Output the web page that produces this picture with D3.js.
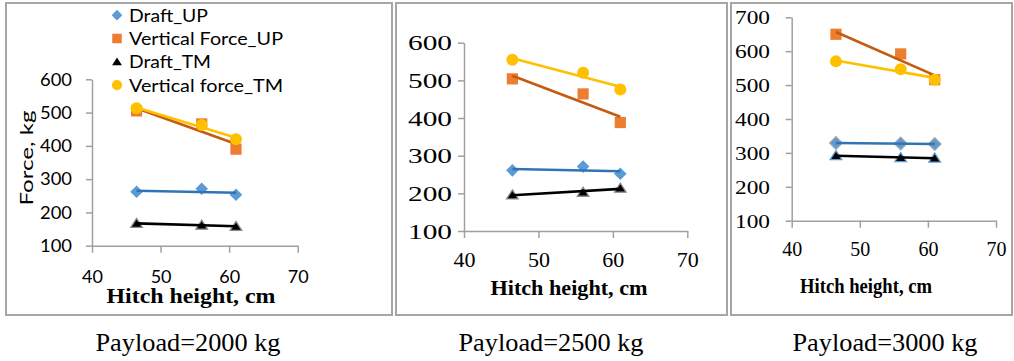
<!DOCTYPE html>
<html>
<head>
<meta charset="utf-8">
<script src="https://cdn.jsdelivr.net/npm/d3@7"></script>
<style>
  body { margin: 0; background: #fff; }
  svg { display: block; }
</style>
</head>
<body>
<svg id="chart" width="1014" height="361"></svg>
<script>
// Hitch height (cm) at which each force was measured
const hitchHeight = [46.5, 56, 61];

// One entry per payload panel: values at the three hitch heights (kg)
const payloadLabels = ["Payload=2000 kg", "Payload=2500 kg", "Payload=3000 kg"];
const draftUP         = [[262, 271, 253], [261, 271, 252], [329, 328, 326]];
const verticalForceUP = [[505, 466, 390], [504, 464, 388], [650, 592, 516]];
const draftTM         = [[167, 162, 158], [196, 203, 214], [292, 286, 285]];
const verticalForceTM = [[513, 463, 420], [555, 520, 476], [570, 547, 516]];

const seriesNames = ["Draft_UP", "Vertical Force_UP", "Draft_TM", "Vertical force_TM"];

// Axis ticks
const xTicks = [40, 50, 60, 70];
const yTicks = [
  [100, 200, 300, 400, 500, 600],
  [100, 200, 300, 400, 500, 600],
  [100, 200, 300, 400, 500, 600, 700]
];

const xTitle = "Hitch height, cm";
const yTitle = "Force, kg";

// ---------------------------------------------------------------------------
const SANS = "Lato, 'Open Sans', sans-serif";
const SERIF = "'Liberation Serif', 'Times New Roman', serif";

// marker shapes, r = half width in px
const shapes = {
  diamond: r => `M0,${-r}L${r},0L0,${r}L${-r},0Z`,
  square: r => `M${-r},${-r}H${r}V${r}H${-r}Z`,
  triangle: r => `M0,${-r * 0.85}L${r},${r * 0.7}L${-r},${r * 0.7}Z`,
  circle: r => `M${r},0A${r},${r} 0 1,1 ${-r},0A${r},${r} 0 1,1 ${r},0Z`
};

const seriesStyle = [
  { shape: "diamond",  r: 6.3, fill: "#5B9BD5", line: "#2E75B6" },
  { shape: "square",   r: 5.6, fill: "#ED7D31", line: "#C55A11" },
  { shape: "triangle", r: 5.8, fill: "#000000", line: "#000000" },
  { shape: "circle",   r: 6.0, fill: "#FFC000", line: "#FFC000" }
];
const seriesData = [draftUP, verticalForceUP, draftTM, verticalForceTM];

const panels = [
  { frame: [6, 3, 386, 312], xr: [92, 297.7], yr: [245.7, 79.3], ydom: [100, 600],
    tickFont: SANS, yTickSize: 17, yTickW: 32, yTickEnd: 72,
    xTickSize: 18, xTickBase: 283,
    titleSize: 20, titleW: 169, titleX: 191, titleBase: 303,
    markerStroke: [null, null, "#8c8c8c", null],
    caption: { x: 188 } },
  { frame: [396, 3, 331, 312], xr: [464, 687.3], yr: [231, 42.7], ydom: [100, 600],
    tickFont: SERIF, yTickSize: 21, yTickW: 44, yTickEnd: 452,
    xTickSize: 22, xTickBase: 266.5,
    titleSize: 22, titleW: 157, titleX: 569, titleBase: 295,
    markerStroke: [null, null, "#8c8c8c", null],
    caption: { x: 551 } },
  { frame: [731, 3, 281, 312], xr: [791.7, 996], yr: [220.7, 17.3], ydom: [100, 700],
    tickFont: SERIF, yTickSize: 19, yTickW: 35, yTickEnd: 770,
    xTickSize: 20, xTickBase: 256.5,
    titleSize: 21, titleW: 132, titleX: 866, titleBase: 293,
    markerStroke: ["#A5A5A5", null, "#5B9BD5", null],
    caption: { x: 885 } }
];

const svg = d3.select("#chart");
const AXIS = "#a0a0a0";

// least-squares line through the measured points
function fit(xs, ys) {
  const mx = d3.mean(xs), my = d3.mean(ys);
  let sxy = 0, sxx = 0;
  xs.forEach((x, i) => { sxy += (x - mx) * (ys[i] - my); sxx += (x - mx) * (x - mx); });
  const b = sxy / sxx;
  return x => my + b * (x - mx);
}

panels.forEach((p, pi) => {
  const g = svg.append("g");

  g.append("rect")
    .attr("x", p.frame[0]).attr("y", p.frame[1])
    .attr("width", p.frame[2]).attr("height", p.frame[3])
    .attr("fill", "none").attr("stroke", "#a6a6a6").attr("stroke-width", 2);

  const x = d3.scaleLinear().domain([40, 70]).range(p.xr);
  const y = d3.scaleLinear().domain(p.ydom).range(p.yr);

  // y axis
  const ya = g.append("g")
    .attr("transform", `translate(${p.xr[0]},0)`)
    .call(d3.axisLeft(y).tickValues(yTicks[pi]).tickSize(6).tickSizeOuter(0).tickFormat(d3.format("d")));
  ya.select(".domain").attr("stroke", AXIS).attr("stroke-width", 1.5);
  ya.selectAll(".tick line").attr("stroke", AXIS).attr("stroke-width", 1.5);
  ya.selectAll(".tick text")
    .attr("x", p.yTickEnd - p.xr[0])
    .attr("dy", "0.34em")
    .attr("fill", "#000")
    .style("font-family", p.tickFont)
    .style("font-size", p.yTickSize + "px")
    .attr("textLength", p.yTickW)
    .attr("lengthAdjust", "spacingAndGlyphs");

  // x axis
  const xa = g.append("g")
    .attr("transform", `translate(0,${p.yr[0]})`)
    .call(d3.axisBottom(x).tickValues(xTicks).tickSize(7).tickSizeOuter(0).tickFormat(d3.format("d")));
  xa.select(".domain").attr("stroke", AXIS).attr("stroke-width", 1.5);
  xa.selectAll(".tick line").attr("stroke", AXIS).attr("stroke-width", 1.5);
  xa.selectAll(".tick text")
    .attr("y", p.xTickBase - p.yr[0])
    .attr("dy", null)
    .attr("fill", "#000")
    .style("font-family", p.tickFont)
    .style("font-size", p.xTickSize + "px");

  // x-axis title
  g.append("text")
    .attr("x", p.titleX).attr("y", p.titleBase)
    .attr("text-anchor", "middle")
    .attr("fill", "#000")
    .style("font-family", SERIF).style("font-weight", "bold")
    .style("font-size", p.titleSize + "px")
    .attr("textLength", p.titleW).attr("lengthAdjust", "spacingAndGlyphs")
    .text(xTitle);

  // series: markers, then the linear trendline on top
  seriesData.forEach((series, si) => {
    const st = seriesStyle[si];
    const vals = series[pi];
    const pts = hitchHeight.map((h, i) => ({ h, v: vals[i] }));
    const line = fit(hitchHeight, vals);

    g.append("g").selectAll("path").data(pts).join("path")
      .attr("transform", d => `translate(${x(d.h)},${y(d.v)})`)
      .attr("d", shapes[st.shape](st.r))
      .attr("fill", st.fill)
      .attr("stroke", p.markerStroke[si] || "none")
      .attr("stroke-width", p.markerStroke[si] ? 1.3 : 0);

    const ends = [d3.min(hitchHeight), d3.max(hitchHeight)];
    g.append("line")
      .attr("x1", x(ends[0])).attr("y1", y(line(ends[0])))
      .attr("x2", x(ends[1])).attr("y2", y(line(ends[1])))
      .attr("stroke", st.line).attr("stroke-width", 2.6);
  });

  // caption below the frame
  svg.append("text")
    .attr("x", p.caption.x).attr("y", 351)
    .attr("text-anchor", "middle")
    .attr("fill", "#000")
    .style("font-family", SERIF).style("font-size", "25px")
    .attr("textLength", 185).attr("lengthAdjust", "spacingAndGlyphs")
    .text(payloadLabels[pi]);
});

// y-axis title of the first panel
svg.append("text")
  .attr("transform", "translate(33,158) rotate(-90)")
  .attr("text-anchor", "middle")
  .attr("fill", "#000")
  .style("font-family", SANS).style("font-size", "18px")
  .attr("textLength", 95).attr("lengthAdjust", "spacingAndGlyphs")
  .text(yTitle);

// legend inside the first panel
const legendW = [79, 154, 82, 154];
const legend = svg.append("g").selectAll("g").data(seriesNames).join("g")
  .attr("transform", (d, i) => `translate(117,${21.7 + i * 23.3})`);
legend.append("path")
  .attr("transform", "translate(0,-6.5)")
  .attr("d", (d, i) => shapes[seriesStyle[i].shape](seriesStyle[i].r * 0.85))
  .attr("fill", (d, i) => seriesStyle[i].fill);
legend.append("text")
  .attr("x", 12).attr("y", 0)
  .attr("fill", "#000")
  .style("font-family", SANS).style("font-size", "17px")
  .attr("textLength", (d, i) => legendW[i]).attr("lengthAdjust", "spacingAndGlyphs")
  .text(d => d);
</script>
</body>
</html>
